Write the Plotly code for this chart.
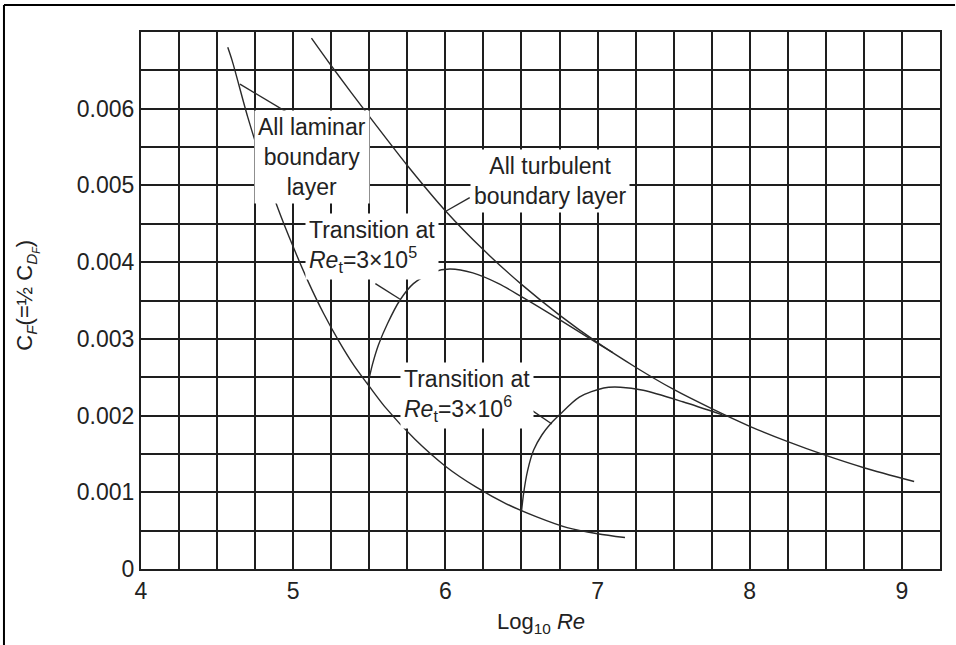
import plotly.graph_objects as go

# ---- data ----
lam_x = [4.57, 4.6, 4.7, 4.8, 4.9, 5.0, 5.1, 5.2, 5.3, 5.4, 5.5, 5.6, 5.8, 6.0, 6.2, 6.4, 6.6, 6.8, 7.0, 7.18]
lam_y = [0.00680, 0.00662, 0.00590, 0.00527, 0.00470, 0.00420, 0.00374, 0.00333, 0.00297, 0.00265,
         0.00238, 0.00212, 0.00169, 0.00134, 0.00107, 0.00085, 0.00068, 0.00054, 0.00046, 0.00041]

turb_x = [5.12, 5.25, 5.5, 5.75, 6.0, 6.25, 6.5, 6.75, 7.0, 7.25, 7.5, 7.75, 8.0, 8.25, 8.5, 8.75, 9.08]
turb_y = [0.00692, 0.00656, 0.00590, 0.00526, 0.00467, 0.00416, 0.00371, 0.00331, 0.00295, 0.00263,
          0.00234, 0.00209, 0.00186, 0.00166, 0.00148, 0.00132, 0.00114]

trans1_x = [5.49, 5.52, 5.56, 5.62, 5.70, 5.79, 5.92, 6.03, 6.18, 6.35, 6.5, 6.75, 7.0, 7.1]
trans1_y = [0.00240, 0.00266, 0.00292, 0.00320, 0.00350, 0.00372, 0.00387, 0.00391, 0.00386,
            0.00372, 0.00355, 0.00325, 0.00294, 0.00282]

trans2_x = [6.50, 6.515, 6.54, 6.58, 6.635, 6.69, 6.75, 6.88, 7.04, 7.15, 7.30, 7.56, 7.82]
trans2_y = [0.00075, 0.00100, 0.00128, 0.00155, 0.00175, 0.00189, 0.00201, 0.00224, 0.00236, 0.00237,
            0.00233, 0.00218, 0.00201]

# leader lines (label -> curve)
lead_lam_x = [4.65, 4.98]
lead_lam_y = [0.00632, 0.00593]
lead_turb_x = [6.0, 6.16]
lead_turb_y = [0.00466, 0.00484]
lead_t1_x = [5.54, 5.70]
lead_t1_y = [0.00372, 0.00352]
lead_t2_x = [6.53, 6.70]
lead_t2_y = [0.00212, 0.00189]

x_ticks = [4, 5, 6, 7, 8, 9]
y_ticks = [0, 0.001, 0.002, 0.003, 0.004, 0.005, 0.006]
y_ticktext = ["0", "0.001", "0.002", "0.003", "0.004", "0.005", "0.006"]

labels = [
    ("All laminar<br>boundary<br>layer", 5.124, 0.00537, "center"),
    ("All turbulent<br>boundary layer", 6.69, 0.00506, "center"),
    ("Transition at<br><i>Re</i><sub>t</sub>=3×10<sup>5</sup>", 5.52, 0.00420, "left"),
    ("Transition at<br><i>Re</i><sub>t</sub>=3×10<sup>6</sup>", 6.139, 0.00226, "left"),
]

FONT = "Liberation Sans, Arial, sans-serif"
CURVE = dict(color="#2a2a2a", width=1.4, smoothing=0.8)
GRID = "#1e1e1e"

fig = go.Figure()
for xs, ys in [(lam_x, lam_y), (turb_x, turb_y), (trans1_x, trans1_y), (trans2_x, trans2_y),
               (lead_lam_x, lead_lam_y), (lead_turb_x, lead_turb_y),
               (lead_t1_x, lead_t1_y), (lead_t2_x, lead_t2_y)]:
    fig.add_trace(go.Scatter(x=xs, y=ys, mode="lines", line=CURVE, line_shape="spline",
                             showlegend=False, hoverinfo="skip"))

for txt, x, y, al in labels:
    fig.add_annotation(x=x, y=y, xref="x", yref="y", text=txt, showarrow=False,
                       align=al, bgcolor="white", borderpad=3,
                       font=dict(family=FONT, size=23, color="#222"))

# y-axis title (rotated)
fig.add_annotation(x=-0.142, y=0.51, xref="paper", yref="paper", textangle=-90,
                   text="C<sub><i>F</i></sub>(=½ C<sub><i>D</i><sub><i>F</i></sub></sub>)",
                   showarrow=False, xanchor="center", yanchor="middle",
                   font=dict(family=FONT, size=22, color="#222"))
# x-axis title
fig.add_annotation(x=0.5, y=-0.101, xref="paper", yref="paper",
                   text="Log<sub>10</sub> <i>Re</i>", showarrow=False,
                   xanchor="center", yanchor="middle",
                   font=dict(family=FONT, size=22, color="#222"))

# outer frame (top and left lines)
fig.add_shape(type="line", xref="paper", yref="paper", x0=-0.1715, x1=1.0188, y0=1.0503, y1=1.0503,
              line=dict(color="black", width=2))
fig.add_shape(type="line", xref="paper", yref="paper", x0=-0.1715, x1=-0.1715, y0=1.0503, y1=-0.15,
              line=dict(color="black", width=2))

fig.update_xaxes(range=[4, 9.25], tickvals=x_ticks, ticks="", showgrid=True,
                 gridcolor=GRID, gridwidth=1.6,
                 minor=dict(tick0=4, dtick=0.25, showgrid=True, gridcolor=GRID, gridwidth=1.6, ticks=""),
                 showline=True, mirror=True, linecolor="#1e1e1e", linewidth=2,
                 zeroline=False, ticklabelstandoff=0,
                 tickfont=dict(family=FONT, size=23, color="#222"))
fig.update_yaxes(range=[0, 0.007], tickvals=y_ticks, ticktext=y_ticktext, ticks="",
                 showgrid=True, gridcolor=GRID, gridwidth=1.6,
                 minor=dict(tick0=0, dtick=0.0005, showgrid=True, gridcolor=GRID, gridwidth=1.6, ticks=""),
                 showline=True, mirror=True, linecolor="#1e1e1e", linewidth=2,
                 zeroline=False, tickfont=dict(family=FONT, size=23, color="#222"))

fig.update_layout(width=956, height=645, autosize=False,
                  margin=dict(l=141, r=16, t=32, b=76),
                  paper_bgcolor="white", plot_bgcolor="white",
                  font=dict(family=FONT, color="#222"))

fig.write_html("out.html", config={"displayModeBar": False},
               post_script="document.body.style.margin='0';"
                           "document.body.style.overflow='hidden';"
                           "document.documentElement.style.overflow='hidden';")
